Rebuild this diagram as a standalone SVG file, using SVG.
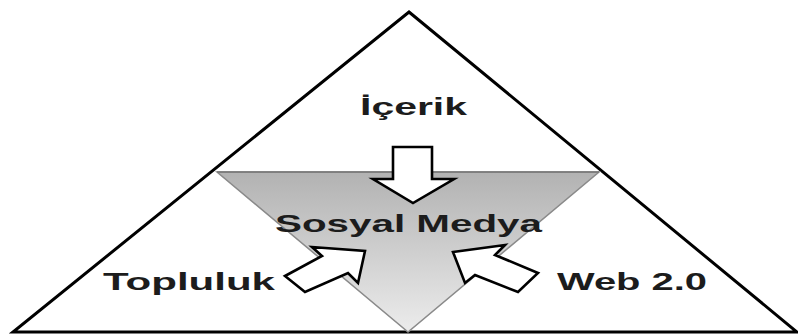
<svg xmlns="http://www.w3.org/2000/svg" width="798" height="336" viewBox="0 0 798 336">
  <defs>
    <linearGradient id="gray" x1="0" y1="0" x2="0" y2="1">
      <stop offset="0" stop-color="#b2b2b2"/>
      <stop offset="1" stop-color="#ececec"/>
    </linearGradient>
    <style>
      .lbl { font-family: "Liberation Sans", Arial, sans-serif; font-weight: bold; font-size: 24px; fill: #1c1c1c; }
      .blk { fill: #ffffff; stroke: #000000; stroke-width: 2.6; stroke-linejoin: miter; }
    </style>
  </defs>
  <rect width="798" height="336" fill="#ffffff"/>
  <g id="outer">
    <polygon points="409,12 797,332 13,332" fill="#ffffff" stroke="#000000" stroke-width="3" stroke-linejoin="miter"/>
  </g>
  <g id="sosyal-medya">
    <polygon points="217,172 599,172 408,332" fill="url(#gray)" stroke="#8a8a8a" stroke-width="1.5"/>
    <line x1="217" y1="172" x2="599" y2="172" stroke="#777777" stroke-width="1.5"/>
    <text class="lbl" x="275" y="232" textLength="267" lengthAdjust="spacingAndGlyphs">Sosyal Medya</text>
  </g>
  <g id="icerik">
    <text class="lbl" x="360" y="115" textLength="107" lengthAdjust="spacingAndGlyphs">İçerik</text>
  </g>
  <g id="topluluk">
    <text class="lbl" x="103" y="290" textLength="172" lengthAdjust="spacingAndGlyphs">Topluluk</text>
  </g>
  <g id="web20">
    <text class="lbl" x="557" y="290" textLength="150" lengthAdjust="spacingAndGlyphs">Web 2.0</text>
  </g>
  <g id="connectors">
    <polygon class="blk" points="393,147 432,147 432,179 454,179 413,203 373,179 393,179"/>
    <polygon class="blk" points="285,276 322,256 312,247 365,251 358,283 348,273 305,292"/>
    <polygon class="blk" points="453,252 505,245 495,255 538,273 518,292 475,275 465,283"/>
  </g>
</svg>
